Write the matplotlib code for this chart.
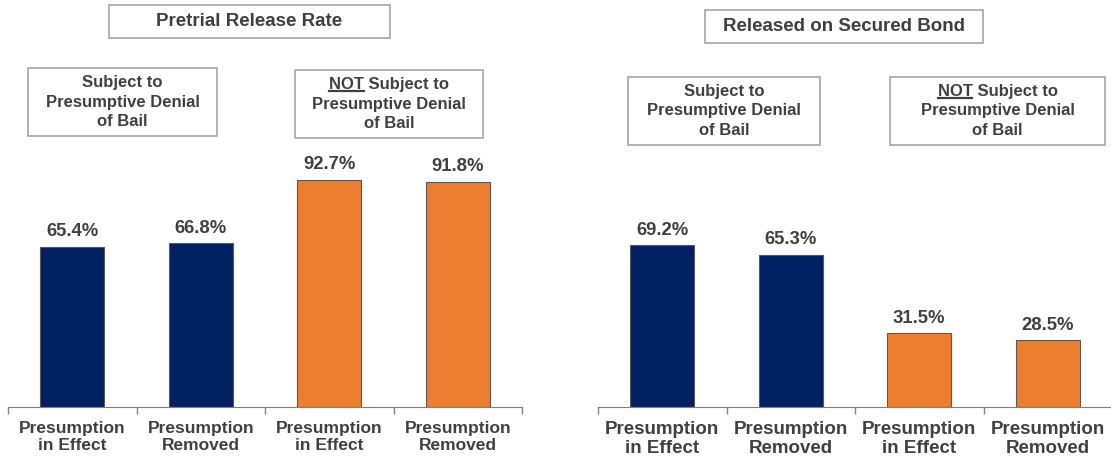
import matplotlib.pyplot as plt
from matplotlib.patches import Rectangle
from matplotlib.lines import Line2D

plt.rcParams['font.family'] = ['Liberation Sans', 'DejaVu Sans']

# ─── Dades ───
categories = ['Presumption\nin Effect', 'Presumption\nRemoved',
              'Presumption\nin Effect', 'Presumption\nRemoved']
release_rate = [65.4, 66.8, 92.7, 91.8]
secured_bond = [69.2, 65.3, 31.5, 28.5]
titles = ['Pretrial Release Rate', 'Released on Secured Bond']
group_subject = 'Subject to\nPresumptive Denial\nof Bail'
group_not = 'NOT Subject to\nPresumptive Denial\nof Bail'

NAVY = '#002060'
ORANGE = '#ED7D31'
TEXT = '#404040'
BOXEDGE = '#A6A6A6'
colors = [NAVY, NAVY, ORANGE, ORANGE]

W, H = 1111, 463
fig = plt.figure(figsize=(W / 100, H / 100), dpi=100)


def fx(x):
    return x / W


def fy(y):
    return 1 - y / H


def add_panel(x0, x1, base, px_per_pct, values, tick_size, spacing):
    height = 300
    ax = fig.add_axes([fx(x0), fy(base), fx(x1 - x0), height / H])
    pos = range(len(values))
    ax.bar(pos, values, width=0.5, color=colors, edgecolor='#595959', linewidth=0.8)
    ax.set_xlim(-0.5, len(values) - 0.5)
    ax.set_ylim(0, height / px_per_pct)
    for p, v in zip(pos, values):
        ax.annotate(f'{v:.1f}%', (p, v), xytext=(0, 7.5), textcoords='offset points',
                    ha='center', va='baseline', fontsize=13.3, fontweight='bold',
                    color=TEXT)
    ax.set_xticks(list(pos))
    ax.set_xticklabels(categories, fontsize=tick_size, fontweight='bold',
                       color=TEXT, linespacing=spacing)
    ax.tick_params(axis='x', which='major', length=0, pad=10)
    ax.set_xticks([-0.5, 0.5, 1.5, 2.5, 3.5], minor=True)
    ax.tick_params(axis='x', which='minor', length=5, color='#808080', width=1)
    ax.set_yticks([])
    for s in ['top', 'right', 'left']:
        ax.spines[s].set_visible(False)
    ax.spines['bottom'].set_color('#808080')
    ax.patch.set_alpha(0)
    return ax


add_panel(8, 522, 407, 2.454, release_rate, 12.5, 1.2)
add_panel(598, 1112, 407, 2.334, secured_bond, 13.5, 1.15)


def box(x0, y0, x1, y1, text, size):
    fig.add_artist(Rectangle((fx(x0), fy(y1)), fx(x1 - x0), (y1 - y0) / H,
                             transform=fig.transFigure, facecolor='white',
                             edgecolor=BOXEDGE, linewidth=1.2))
    t = fig.text(fx((x0 + x1) / 2), fy((y0 + y1) / 2), text, ha='center', va='center',
                 fontsize=size, fontweight='bold', color=TEXT, linespacing=1.35)
    return t


# Títols
box(109, 5, 390, 38, titles[0], 13.5)
box(705, 10, 983, 43, titles[1], 13.5)

# Caixes de grup
box(28, 68, 217, 136, group_subject, 12)
t1 = box(295, 70, 483, 138, group_not, 12)
box(628, 77, 820, 145, group_subject, 12)
t2 = box(890, 77, 1105, 145, group_not, 12)

# Subratllat de "NOT"
fig.canvas.draw()
r = fig.canvas.get_renderer()
for t in (t1, t2):
    bb = t.get_window_extent(r)
    probe_line = fig.text(0, 0, 'NOT Subject to', fontsize=12, fontweight='bold')
    probe_not = fig.text(0, 0, 'NOT', fontsize=12, fontweight='bold')
    wl = probe_line.get_window_extent(r).width
    wn = probe_not.get_window_extent(r).width
    hl = probe_line.get_window_extent(r).height
    probe_line.remove()
    probe_not.remove()
    cx = (bb.x0 + bb.x1) / 2
    left = cx - wl / 2
    yline = bb.y1 - hl + 1
    fig.add_artist(Line2D([left / W, (left + wn) / W], [yline / H, yline / H],
                          transform=fig.transFigure, color=TEXT, linewidth=1.6))

plt.savefig('out.png', dpi=100, facecolor='white')
